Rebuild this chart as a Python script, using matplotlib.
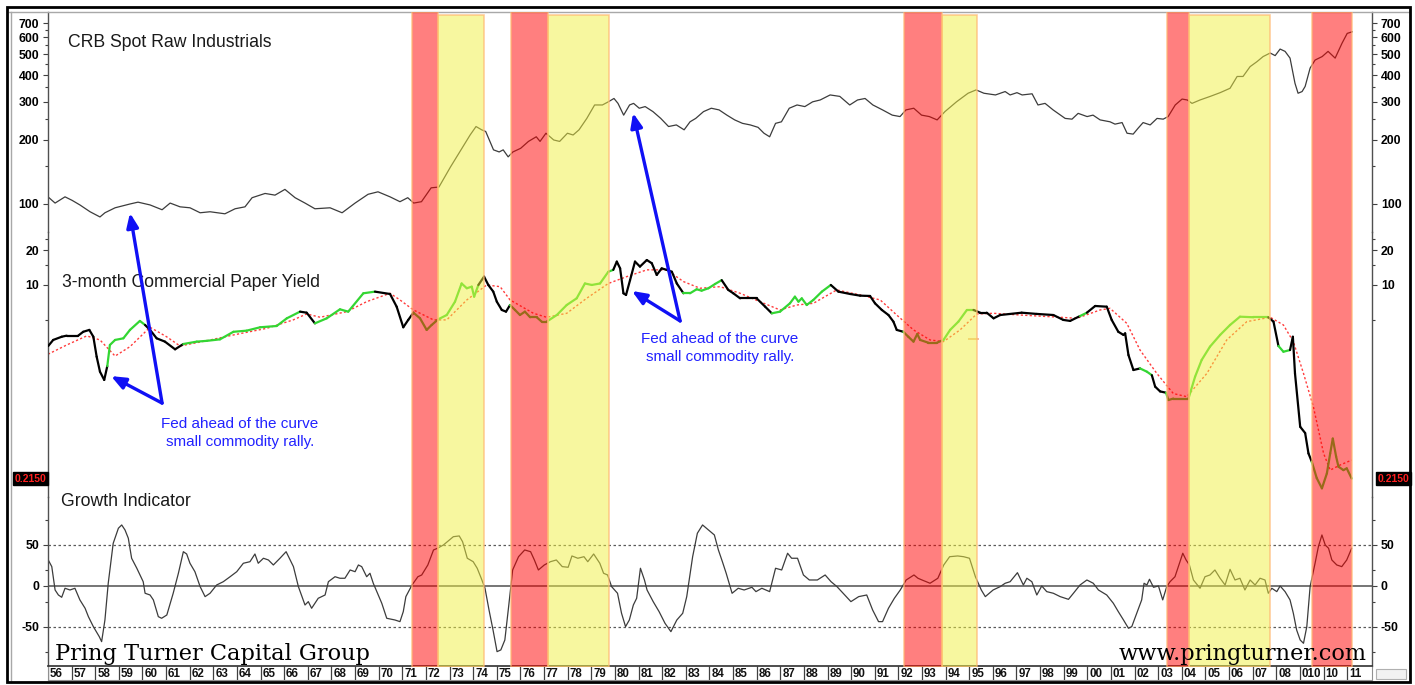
import numpy as np
import matplotlib
matplotlib.use('Agg')
import matplotlib.pyplot as plt
import matplotlib.ticker as mticker
import matplotlib.transforms as mtrans
from matplotlib.collections import LineCollection
from matplotlib.patches import Rectangle
from matplotlib.lines import Line2D

plt.rcParams['font.family'] = ['Liberation Sans', 'DejaVu Sans']

# ---------------- data ----------------
crb_years = [1956.00,1956.30,1956.72,1957.02,1957.35,1957.78,1958.20,1958.41,1958.84,1959.47,
             1959.81,1960.32,1960.83,1961.17,1961.59,1962.01,1962.44,1962.86,1963.49,1963.92,
             1964.34,1964.64,1965.19,1965.61,1966.03,1966.46,1966.88,1967.30,1967.94,1968.45,
             1969.00,1969.55,1969.97,1970.48,
             1970.90,1971.23,1971.48,1971.81,1972.22,1972.55,1973.04,1973.54,1973.87,1974.12,
             1974.36,1974.53,1974.86,1975.10,1975.27,1975.48,1975.68,1976.01,1976.34,1976.67,
             1976.83,1977.08,1977.41,1977.66,1977.99,1978.23,1978.48,1978.81,1979.14,1979.47,
             1979.72,1979.96,1980.13,1980.37,1980.62,1980.79,1981.03,1981.28,1981.61,1981.94,
             1982.27,1982.60,1982.93,1983.18,1983.42,1983.75,1984.08,1984.41,1984.74,1985.07,
             1985.40,1985.73,1986.06,1986.31,1986.55,1986.80,1987.05,1987.38,1987.71,1988.04,
             1988.37,1988.69,1989.11,1989.52,1989.94,1990.27,1990.59,1990.92,1991.33,1991.74,
             1992.07,1992.32,1992.65,1992.98,1993.31,1993.64,1993.97,1994.46,1994.95,1995.29,
             1995.62,1996.11,
             1996.31,1996.52,1996.73,1997.02,1997.24,1997.66,1997.91,1998.21,1998.55,1999.06,
             1999.35,1999.61,1999.99,2000.24,2000.54,2000.96,2001.17,2001.47,2001.68,2001.94,
             2002.15,2002.36,2002.66,2002.95,2003.21,2003.42,2003.72,2004.01,2004.23,2004.43,
             2004.77,2005.20,2005.62,2006.04,2006.34,2006.59,2006.89,2007.18,2007.44,2007.74,
             2007.95,2008.16,2008.37,2008.58,2008.79,2008.92,2009.09,2009.22,2009.43,2009.64,
             2009.94,2010.19,2010.49,2010.78,2011.00,2011.21]
crb_vals = [108,101,108,104,99,92,87,91,96,100,
            102,99,94,101,97,96,91,92,90,95,
            97,107,112,110,117,107,101,95,96,91,
            101,111,114,108,
            102.5,107,101,102.5,119,120,149,183,210,230,
            222,218,179,175,179,166,175,182,196,206,
            196,214,199,196,214,210,222,251,290,290,
            300,311,295,260,290,295,280,285,270,251,
            230,234,222,242,251,270,280,275,260,247,
            238,234,228,214,206,238,242,280,290,285,
            300,306,323,318,290,306,311,290,275,260,
            256,275,280,260,256,247,270,300,329,341,
            329,323,
            329,335,323,331,323,327,290,295,275,251,
            249,265,256,260,247,242,236,240,214,212,
            226,240,234,251,249,256,290,309,306,295,
            306,318,331,347,394,394,438,462,488,507,
            493,529,516,480,366,329,335,354,431,470,
            488,516,480,563,626,637]

yield_years = [1956.01,1956.22,1956.58,1956.79,1957.28,1957.49,1957.75,1957.92,1958.06,1958.20,
               1958.38,1958.51,1958.62,1958.84,1959.19,1959.47,1959.89,1960.11,1960.32,1960.60,
               1960.95,1961.38,1961.73,1962.30,1962.72,1963.28,1963.85,1964.41,1964.98,1965.68,
               1966.11,1966.67,1966.95,1967.30,1967.80,1968.36,1968.71,1969.35,1969.84,1970.48,
               1970.76,1971.04,
               1971.25,1971.47,1971.75,1972.03,1972.24,1972.52,1972.88,1973.23,1973.51,1973.73,
               1973.94,1974.04,1974.22,1974.46,1974.64,1974.85,1975.00,1975.21,1975.39,1975.56,
               1975.77,1975.98,1976.19,1976.41,1976.69,1976.90,1977.11,1977.54,1977.96,1978.38,
               1978.73,1979.02,1979.37,1979.72,1979.93,1980.08,1980.22,1980.36,1980.47,1980.64,
               1980.85,1981.06,1981.35,1981.56,1981.77,1981.98,1982.19,1982.41,1982.62,1982.90,
               1983.18,1983.46,1983.67,1983.96,1984.24,1984.52,1984.80,1985.01,1985.30,1985.58,
               1986.00,1986.36,1986.64,1986.99,
               1987.41,1987.62,1987.77,1987.91,1988.12,1988.40,1988.76,1989.14,1989.46,1989.96,
               1990.38,1990.80,1991.01,1991.30,1991.58,1991.79,1991.93,1992.21,1992.42,1992.64,
               1992.80,1992.92,1993.27,1993.63,1993.91,1994.19,1994.54,1994.90,1995.18,1995.46,
               1995.74,1996.03,
               1996.31,1997.22,1997.86,1998.56,1998.98,1999.27,1999.69,1999.98,2000.33,2000.82,
               2001.03,2001.31,2001.53,2001.60,2001.74,2001.95,2002.23,2002.52,2002.73,2002.87,
               2003.08,2003.33,2003.43,2003.64,2003.92,2004.28,2004.56,2004.84,2005.19,2005.62,
               2006.04,2006.46,2007.03,2007.66,2007.88,2008.09,2008.30,2008.58,2008.70,2008.79,
               2009.01,2009.22,2009.36,2009.50,2009.71,2009.93,2010.14,2010.28,2010.39,2010.53,
               2010.63,2010.84,2010.98,2011.19]
yield_vals = [2.98,3.36,3.58,3.66,3.66,3.95,4.10,3.58,2.41,1.79,
              1.52,2.00,3.04,3.36,3.47,4.10,4.90,4.52,4.10,3.47,
              3.25,2.79,3.10,3.25,3.30,3.40,3.95,4.04,4.32,4.43,
              5.16,5.89,5.77,4.67,5.16,6.17,5.89,8.48,8.76,8.36,
              6.50,4.32,
              5.00,5.77,5.16,4.10,4.52,5.06,5.51,7.18,10.3,9.37,
              9.67,7.93,10.0,11.8,10.0,8.76,7.18,6.09,5.89,6.72,
              6.09,5.51,5.89,5.27,5.27,4.83,4.83,5.51,6.72,7.67,
              10.3,10.0,10.3,13.0,13.5,15.9,13.9,8.48,8.20,11.0,
              15.9,14.4,16.4,15.4,12.2,13.9,13.5,13.0,10.3,8.48,
              8.48,9.18,8.93,9.37,10.2,11.0,9.06,8.48,7.67,7.67,
              7.67,6.50,5.70,5.89,
              6.95,7.93,7.18,7.67,6.72,7.43,8.76,10.0,8.76,8.36,
              8.09,8.04,6.95,6.09,5.51,4.83,4.10,3.95,3.58,3.25,
              3.78,3.36,3.18,3.18,3.36,4.10,4.83,6.09,6.09,5.77,
              5.77,5.16,
              5.51,5.77,5.63,5.51,5.00,4.90,5.40,5.77,6.59,6.50,
              5.00,3.95,3.71,3.83,2.49,1.85,1.91,1.79,1.67,1.33,
              1.21,1.18,1.02,1.05,1.05,1.05,1.62,2.26,2.94,3.71,
              4.52,5.33,5.27,5.27,4.83,2.98,2.66,2.75,3.58,1.73,
              0.60,0.53,0.354,0.300,0.217,0.177,0.238,0.354,0.475,0.333,
              0.272,0.254,0.263,0.215]

# periods where the yield line is drawn green
green_periods = [(1958.55, 1960.05), (1961.65, 1966.70), (1967.35, 1969.90),
                 (1971.40, 1974.25), (1975.55, 1979.95), (1982.85, 1984.60),
                 (1986.60, 1989.20), (1992.20, 1995.30), (1997.15, 1997.50),
                 (1999.60, 2000.15), (2002.15, 2002.75), (2003.35, 2007.70),
                 (2008.09, 2008.60), (2009.50, 2011.30)]

ma_years = [1956.00,1956.79,1957.64,1958.20,1958.84,1959.47,1960.32,1961.02,1961.59,1962.72,
            1963.85,1965.26,1966.38,1966.95,1967.52,1968.65,1969.49,1970.48,1970.90,1971.47,
            1972.32,1972.88,1973.73,1974.57,1975.14,1975.56,1976.55,1977.11,1977.96,1978.80,
            1979.72,1980.50,1981.35,1982.19,1982.90,1983.60,1984.45,1985.30,1986.14,1986.99,
            1987.70,1988.40,1989.39,1990.38,1991.23,1991.93,1992.64,1993.34,1993.91,1994.61,
            1995.32,1996.03,1997.16,1998.84,1999.55,2000.54,2000.96,2001.67,2002.23,2002.94,
            2003.64,2004.21,2005.06,2005.90,2006.75,2007.74,2008.30,2008.72,2009.15,2009.57,
            2010.00,2010.28,2010.70,2011.19]
ma_vals = [2.53,3.04,3.64,3.36,2.44,2.94,4.32,3.58,2.98,3.31,
           3.71,4.23,5.00,5.63,5.27,5.89,7.18,8.48,7.43,6.09,
           5.00,5.00,7.43,10.0,9.67,7.43,5.70,5.27,5.70,7.67,
           10.3,11.8,13.5,13.5,10.7,9.37,9.67,8.48,7.18,6.09,
           6.72,6.95,9.06,8.20,7.43,5.51,4.10,3.36,3.25,4.10,
           5.63,5.70,5.51,5.27,5.16,6.09,6.29,4.67,2.75,1.73,
           1.16,1.09,1.73,3.36,4.83,5.27,4.52,3.25,1.73,0.89,
           0.354,0.254,0.281,0.31]

marker_level = 3.40
marker_span = (1994.93, 1995.43)

growth_years = [1956.01,1956.16,1956.30,1956.44,1956.58,1956.72,1956.93,1957.14,1957.35,1957.57,
                1957.71,1957.92,1958.17,1958.27,1958.41,1958.55,1958.76,1958.98,1959.12,1959.26,
                1959.40,1959.54,1959.76,1960.03,1960.11,1960.32,1960.46,1960.67,1960.81,1961.03,
                1961.30,1961.52,1961.73,1961.87,1962.01,1962.22,1962.44,1962.65,1962.86,1963.14,
                1963.42,1963.71,1963.99,1964.27,1964.55,1964.76,1964.90,1965.12,1965.33,1965.54,
                1965.82,1966.08,1966.25,1966.39,1966.60,1966.88,1967.02,1967.16,1967.44,1967.73,
                1967.87,1968.15,1968.36,1968.57,1968.79,1969.00,1969.14,1969.28,1969.49,1969.63,
                1969.77,1969.98,1970.13,1970.34,1970.69,1970.90,1971.04,
                1971.15,1971.41,1971.66,1971.82,1972.08,1972.32,1972.49,1972.74,1972.99,1973.16,
                1973.41,1973.55,1973.75,1974.00,1974.17,1974.34,1974.50,1974.67,1974.84,1975.01,
                1975.17,1975.34,1975.50,1975.67,1975.92,1976.18,1976.43,1976.59,1976.76,1977.01,
                1977.27,1977.52,1977.77,1978.02,1978.18,1978.43,1978.69,1978.85,1979.10,1979.36,
                1979.52,1979.69,1979.86,1980.11,1980.28,1980.45,1980.61,1980.78,1980.92,1981.08,
                1981.25,1981.36,1981.62,1981.87,1982.12,1982.37,1982.62,1982.87,1983.04,1983.29,
                1983.49,1983.71,1983.96,1984.21,1984.38,1984.55,1984.71,1984.96,1985.22,1985.47,
                1985.80,1985.97,1986.22,1986.55,1986.80,1987.06,1987.31,1987.48,1987.73,1987.98,
                1988.23,1988.57,1988.90,1989.15,1989.40,1989.73,1989.99,1990.32,1990.66,1990.91,
                1991.16,1991.33,1991.58,1991.83,1992.08,1992.33,1992.66,1992.83,1993.00,1993.34,
                1993.67,1993.92,1994.17,1994.51,1994.76,1995.01,1995.26,1995.51,1995.68,1996.01,
                1996.31,1996.52,1996.73,1997.04,1997.29,1997.44,1997.65,1997.86,1998.07,1998.28,
                1998.56,1998.85,1999.20,1999.41,1999.69,1999.98,2000.25,2000.47,2000.82,2001.10,
                2001.31,2001.53,2001.74,2001.88,2002.09,2002.30,2002.40,2002.52,2002.63,2002.80,
                2003.01,2003.19,2003.36,2003.50,2003.71,2003.90,2004.04,2004.18,2004.32,2004.49,
                2004.77,2004.98,2005.19,2005.40,2005.62,2005.83,2006.04,2006.25,2006.46,2006.67,
                2006.89,2007.10,2007.31,2007.52,2007.66,2007.81,2008.02,2008.16,2008.37,2008.58,
                2008.72,2008.86,2009.01,2009.15,2009.29,2009.43,2009.64,2009.78,2009.93,2010.07,
                2010.21,2010.35,2010.56,2010.77,2010.98,2011.19]
growth_vals = [31.7,23.6,-4.9,-11,-13.8,-2.8,-4.9,-2.8,-17,-27.2,
               -37.4,-49.6,-61.8,-67.9,-41.5,3.3,52,70.4,74.4,68.3,
               58.2,33.8,21.6,5.2,-8.9,-11,-17,-37.4,-39.4,-35.4,
               -8.9,15.5,41.8,39,27.7,17.4,-0.8,-13,-8.9,1.2,
               5.2,11.3,17.4,27.7,29.6,39,27.7,33.8,31.7,25.6,
               33.8,41.8,31.7,23.6,-0.8,-23.2,-19.1,-27.2,-15,-11,
               5.2,11.3,9.4,9.4,19.5,17.4,25.6,23.6,11.3,15.5,
               3.3,-11,-21.1,-39.4,-41.5,-43.5,-31.3,
               -13,1.2,11.3,13.4,25.6,43.9,46,50,56.1,60.1,
               61,54,33.8,29.6,21.6,9.4,-2.8,-29.3,-53.7,-80.1,
               -78,-65.9,-25.2,19.5,35.7,43.9,41.8,31.7,19.5,25.6,
               29.6,31.7,23.6,22.8,36.6,33.8,35.7,29.6,39,27.7,
               15.5,13.4,-0.8,-8.9,-33.3,-49.6,-41.5,-23.2,-15,21.6,
               7.3,-4.9,-19.1,-31.3,-45.5,-55.7,-41.5,-33.3,-13,35.7,
               64.3,74.4,68.3,62.2,43.9,29.6,15.5,-8.9,-2.8,-4.9,
               -1.6,-6.9,-2.8,-6.9,21.6,19.5,39.9,33.8,33.8,13.4,
               7.3,7.3,13.4,5.2,-0.8,-11,-19.1,-13,-11,-29.3,
               -43.5,-43.5,-27.2,-15,-4.9,7.3,13.4,9.4,7.3,3.3,
               9.4,25.6,35.7,36.6,35.7,33.8,11.3,-4.9,-13,-4.9,
               -0.8,3.3,5.2,16.2,1.2,9.4,5.2,-11,0,-6.9,
               -8.9,-13,-16.3,-8.9,1.2,7.3,3.3,-4.9,-11,-21.1,
               -31.3,-41.5,-51.6,-49.6,-33.3,-17,3.3,1.2,8.2,-1.6,
               0,-17,-0.8,5.2,11.3,27.7,39.9,31.7,25.6,7.3,
               -2.8,11.3,13.4,19.5,9.4,1.2,20.3,7.3,9.4,-4.9,
               7.3,1.2,9.4,7.3,-8.9,-2.8,-6.9,0,-6.9,-17,
               -33.3,-53.7,-65.9,-69.9,-49.6,-0.8,27.7,47.9,62.2,50,
               46,31.7,25.6,23.6,31.7,46]

red_periods = [(1971.43, 1972.50), (1975.60, 1977.16), (1992.24, 1993.85),
               (2003.36, 2004.32), (2009.53, 2011.22)]
yellow_periods = [(1972.50, 1974.45), (1977.16, 1979.75), (1993.85, 1995.33),
                  (2004.32, 2007.74)]

year_ticks = list(range(1956, 2012))
year_labels = [f"{y % 100:02d}" for y in year_ticks]
year_labels[year_ticks.index(2009)] = "010"

crb_ticks = [100, 200, 300, 400, 500, 600, 700]
yield_ticks = [10, 20]
growth_ticks = [-50, 0, 50]

# ---------------- layout helpers ----------------
W, H = 1415, 685
fig = plt.figure(figsize=(W / 100, H / 100), dpi=100)
fig.patch.set_facecolor('white')

def fx(px):
    return px / W

def fy(py):
    return 1 - py / H

def rect(x0, y0, x1, y1):
    return [fx(x0), fy(y1), (x1 - x0) / W, (y1 - y0) / H]

X0, X1 = 48, 1372
XL = (1956.0, 2012.05)

ax_top = fig.add_axes(rect(X0, 12, X1, 232))
ax_mid = fig.add_axes(rect(X0, 232, X1, 497))
ax_bot = fig.add_axes(rect(X0, 497, X1, 666))

for ax in (ax_top, ax_mid, ax_bot):
    ax.set_xlim(*XL)
    ax.patch.set_visible(False)
    ax.tick_params(axis='x', which='both', bottom=False, top=False,
                   labelbottom=False)
    ax.spines['top'].set_visible(False)
    ax.spines['bottom'].set_visible(False)
    for s in ('left', 'right'):
        ax.spines[s].set_color('#505050')
        ax.spines[s].set_linewidth(1.0)
    ax.tick_params(axis='y', which='both', left=True, right=True,
                   labelleft=True, labelright=True, direction='out',
                   color='#404040', labelcolor='black', width=0.8, pad=2.5)
    ax.tick_params(axis='y', which='major', length=3.8)
    ax.tick_params(axis='y', which='minor', length=2.5)

lab_kw = dict(fontweight='bold', fontsize=8.8)

# top: CRB
ax_top.set_yscale('log')
ax_top.set_ylim(74.0, 788)
ax_top.set_yticks(crb_ticks, labels=[str(t) for t in crb_ticks], **lab_kw)
ax_top.set_yticks([150, 250, 350, 450, 550, 650], minor=True)
ax_top.yaxis.set_minor_formatter(mticker.NullFormatter())
ax_top.plot(crb_years, crb_vals, color='#3c3c3c', lw=0.9)

# middle: yield
ax_mid.set_yscale('log')
ax_mid.set_ylim(0.149, 28.6)
ax_mid.set_yticks(yield_ticks, labels=[str(t) for t in yield_ticks], **lab_kw)
ax_mid.set_yticks([5, 15, 25], minor=True)
ax_mid.yaxis.set_minor_formatter(mticker.NullFormatter())
ax_mid.plot(ma_years, ma_vals, color='#FF3C3C', lw=1.0, ls=(0, (1.6, 1.6)),
            zorder=2)
pts = np.column_stack([yield_years, yield_vals])
segs = np.stack([pts[:-1], pts[1:]], axis=1)
mids = (pts[:-1, 0] + pts[1:, 0]) / 2
green = np.zeros(len(mids), bool)
for a, b in green_periods:
    green |= (mids >= a) & (mids <= b)
cols = ['#33D633' if g else '#000000' for g in green]
lc = LineCollection(segs, colors=cols, linewidths=1.6, capstyle='round',
                    joinstyle='round', zorder=3)
ax_mid.add_collection(lc)
ax_mid.hlines(marker_level, *marker_span, color='#F2B088', lw=1.2, zorder=3)

# bottom: growth
ax_bot.set_ylim(-97.6, 108.5)
ax_bot.set_yticks(growth_ticks, labels=[str(t) for t in growth_ticks], **lab_kw)
ax_bot.set_yticks([-80, -20, 20, 80], minor=True)
ax_bot.axhline(0, color='#6a6a6a', lw=1.3, zorder=1)
for lv in (50, -50):
    ax_bot.axhline(lv, color='#5a5a5a', lw=0.9, ls=(0, (2, 2)), zorder=1)
ax_bot.plot(growth_years, growth_vals, color='#3c3c3c', lw=0.9, zorder=2)

# ---------------- overlay: shaded periods, texts, arrows ----------------
ax_over = fig.add_axes(rect(X0, 12, X1, 667))
ax_over.set_xlim(*XL)
ax_over.set_ylim(0, 1)
ax_over.axis('off')
ax_over.set_zorder(5)
ax_over.patch.set_visible(False)

for a, b in red_periods:
    ax_over.axvspan(a, b, ymin=0, ymax=1, facecolor=(1.0, 0.0, 0.0, 0.5),
                    edgecolor=(1.0, 0.72, 0.45, 0.7), lw=1.2, zorder=1)
for a, b in yellow_periods:
    ax_over.axvspan(a, b, ymin=0, ymax=1 - 3 / 655,
                    facecolor=(0.945, 0.945, 0.255, 0.5),
                    edgecolor=(1.0, 0.72, 0.45, 0.7), lw=1.2, zorder=1)

tf = fig.transFigure
title_kw = dict(fontsize=12.7, color='#1a1a1a', va='baseline', ha='left',
                transform=tf, zorder=2)
ax_over.text(fx(68), fy(47), 'CRB Spot Raw Industrials', **title_kw)
ax_over.text(fx(62), fy(286.5), '3-month Commercial Paper Yield', **title_kw)
ax_over.text(fx(61), fy(505.5), 'Growth Indicator', **title_kw)

blue = '#1010F5'
note_kw = dict(fontsize=11, color='#2222FF', va='baseline', ha='center',
               transform=tf, zorder=3)
ax_over.text(fx(240), fy(428), 'Fed ahead of the curve', **note_kw)
ax_over.text(fx(240), fy(446), 'small commodity rally.', **note_kw)
ax_over.text(fx(720), fy(343), 'Fed ahead of the curve', **note_kw)
ax_over.text(fx(720), fy(361.5), 'small commodity rally.', **note_kw)

arrow_kw = dict(arrowstyle='-|>,head_length=0.85,head_width=0.35', color=blue,
                lw=2.4, shrinkA=0, shrinkB=0)
ax_over.annotate('', xy=(1959.47, 90.8), xycoords=ax_top.transData,
                 xytext=(1960.83, 0.96), textcoords=ax_mid.transData,
                 arrowprops=arrow_kw, zorder=4)
ax_over.annotate('', xy=(1958.67, 1.64), xycoords=ax_mid.transData,
                 xytext=(1960.83, 0.96), textcoords=ax_mid.transData,
                 arrowprops=arrow_kw, zorder=4)
ax_over.annotate('', xy=(1980.77, 266), xycoords=ax_top.transData,
                 xytext=(1982.76, 4.9), textcoords=ax_mid.transData,
                 arrowprops=arrow_kw, zorder=4)
ax_over.annotate('', xy=(1980.72, 8.88), xycoords=ax_mid.transData,
                 xytext=(1982.76, 4.9), textcoords=ax_mid.transData,
                 arrowprops=arrow_kw, zorder=4)

serif_kw = dict(family=['DejaVu Serif'], fontsize=16.2,
                color='black', va='baseline', transform=tf, zorder=6)
ax_over.text(fx(55), fy(660), 'Pring Turner Capital Group', ha='left', **serif_kw)
ax_over.text(fx(1367), fy(660), 'www.pringturner.com', ha='right', **serif_kw)

# current value boxes
last = yield_vals[-1]
bt = mtrans.blended_transform_factory(fig.transFigure, ax_mid.transData)
box_kw = dict(fontsize=7.5, fontweight='bold', color='#FF2020', va='center',
              transform=bt, zorder=10,
              bbox=dict(boxstyle='square,pad=0.15', fc='black', ec='black'))
fig.text(fx(46), last, f"{last:.4f}", ha='right', **box_kw)
fig.text(fx(1378), last, f"{last:.4f}", ha='left', **box_kw)

# ---------------- date strip ----------------
ax_strip = fig.add_axes(rect(X0, 666, X1, 680))
ax_strip.set_xlim(*XL)
ax_strip.set_ylim(0, 1)
ax_strip.set_xticks([])
ax_strip.set_yticks([])
for s in ax_strip.spines.values():
    s.set_color('#909090')
    s.set_linewidth(0.8)
ax_strip.spines['top'].set_color('#303030')
ax_strip.spines['top'].set_linewidth(1.2)
ax_strip.vlines(year_ticks, 0, 1, color='#404040', lw=0.9)
for yv, lab in zip(year_ticks, year_labels):
    ax_strip.text(yv + 0.08, 0.45, lab, ha='left', va='center',
                  fontsize=8.3, fontweight='bold', color='#111111')

fig.add_artist(Rectangle((fx(1376), fy(679)), 30 / W, 10 / H, transform=tf,
                         fc='#F2F2F2', ec='#B0B0B0', lw=0.8))

# ---------------- frames ----------------
fig.add_artist(Line2D([fx(9), fx(1409)], [fy(11.5), fy(11.5)], transform=tf,
                      color='#A8A8A8', lw=1.0))
fig.add_artist(Line2D([fx(10.5), fx(10.5)], [fy(11.5), fy(682)], transform=tf,
                      color='#A8A8A8', lw=1.0))
fig.add_artist(Rectangle((fx(7), fy(682)), (1410 - 7) / W, (682 - 7) / H,
                         transform=tf, fill=False, ec='black', lw=2.0,
                         zorder=20))

fig.savefig('out.png', dpi=100, facecolor='white')
